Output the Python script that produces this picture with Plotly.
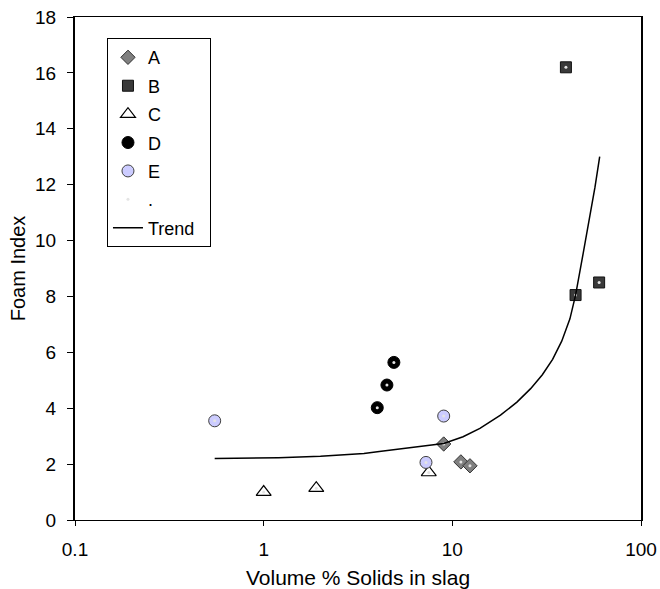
import plotly.graph_objects as go

# ---- data ----
a_x = [9.0, 11.1, 12.4]
a_y = [2.72, 2.08, 1.94]
b_x = [40.0, 45.0, 60.0]
b_y = [16.2, 8.05, 8.5]
c_x = [1.0, 1.9, 7.5]
c_y = [1.0, 1.14, 1.7]
d_x = [4.0, 4.5, 4.9]
d_y = [4.02, 4.83, 5.64]
e_x = [0.55, 7.25, 9.0]
e_y = [3.55, 2.06, 3.72]
trend_x = [0.55, 1.2, 2.0, 3.4, 4.1, 5.0, 6.2, 7.2, 9.0, 11.4, 14.0, 18.0, 22.0,
           26.0, 30.0, 34.0, 38.0, 42.0, 45.0, 49.4, 53.7, 57.0, 60.4]
trend_y = [2.2, 2.23, 2.28, 2.38, 2.45, 2.52, 2.6, 2.66, 2.74, 2.98, 3.28, 3.75, 4.22,
           4.7, 5.2, 5.75, 6.4, 7.2, 8.05, 9.55, 10.86, 11.9, 13.0]
x_ticks = [0.1, 1, 10, 100]
x_tick_labels = ["0.1", "1", "10", "100"]
y_ticks = list(range(0, 19, 2))

FONT = "Liberation Sans, Arial, sans-serif"

fig = go.Figure()
fig.add_trace(go.Scatter(x=a_x, y=a_y, mode="markers", name="A", legendgroup="A",
                         marker=dict(symbol="diamond", size=11, color="#808080",
                                     line=dict(color="#303030", width=1))))
fig.add_trace(go.Scatter(x=b_x, y=b_y, mode="markers", name="B", legendgroup="B",
                         marker=dict(symbol="square", size=11, color="#3a3a3a",
                                     line=dict(color="#111111", width=1))))
fig.add_trace(go.Scatter(x=c_x, y=c_y, mode="markers", name="C", legendgroup="C",
                         marker=dict(symbol="triangle-up", size=13, color="white",
                                     line=dict(color="black", width=1.2))))
fig.add_trace(go.Scatter(x=d_x, y=d_y, mode="markers", name="D", legendgroup="D",
                         marker=dict(symbol="circle", size=12, color="black",
                                     line=dict(color="black", width=1))))
fig.add_trace(go.Scatter(x=e_x, y=e_y, mode="markers", name="E", legendgroup="E",
                         marker=dict(symbol="circle", size=12, color="#ccccff",
                                     line=dict(color="#404040", width=1))))
all_x = a_x + b_x + c_x + d_x + e_x
all_y = a_y + b_y + c_y + d_y + e_y
fig.add_trace(go.Scatter(x=all_x, y=all_y, mode="markers", name=".", legendgroup="dot",
                         marker=dict(symbol="circle", size=3, color="#e4e4e4")))
fig.add_trace(go.Scatter(x=trend_x, y=trend_y, mode="lines", name="Trend\u00a0\u00a0",
                         legendgroup="T", line=dict(color="black", width=1.5)))

fig.update_layout(
    width=660, height=589,
    margin=dict(l=75, r=19, t=17, b=69),
    paper_bgcolor="white", plot_bgcolor="white",
    font=dict(family=FONT, size=19, color="black"),
    showlegend=True,
    legend=dict(x=0.0565, y=0.958, xanchor="left", yanchor="top",
                bordercolor="black", borderwidth=1, bgcolor="white",
                font=dict(family=FONT, size=18, color="black"),
                traceorder="grouped", tracegroupgap=2),
    xaxis=dict(type="log", range=[-1, 2], tickvals=x_ticks, ticktext=x_tick_labels,
               showgrid=False, zeroline=False, showline=True, linecolor="black",
               linewidth=1, mirror=True, ticks="outside", ticklen=5, tickcolor="black",
               ticklabelstandoff=7, automargin=False,
               title=dict(text="Volume % Solids in slag", font=dict(size=21), standoff=12)),
    yaxis=dict(range=[0, 18], tickvals=y_ticks, showgrid=False, zeroline=False,
               showline=True, linecolor="black", linewidth=2, mirror=True,
               ticks="outside", ticklen=6, tickcolor="black", ticklabelstandoff=7,
               automargin=False,
               title=dict(text="Foam Index", font=dict(size=20), standoff=4)),
)

fig.write_html("out.html")
